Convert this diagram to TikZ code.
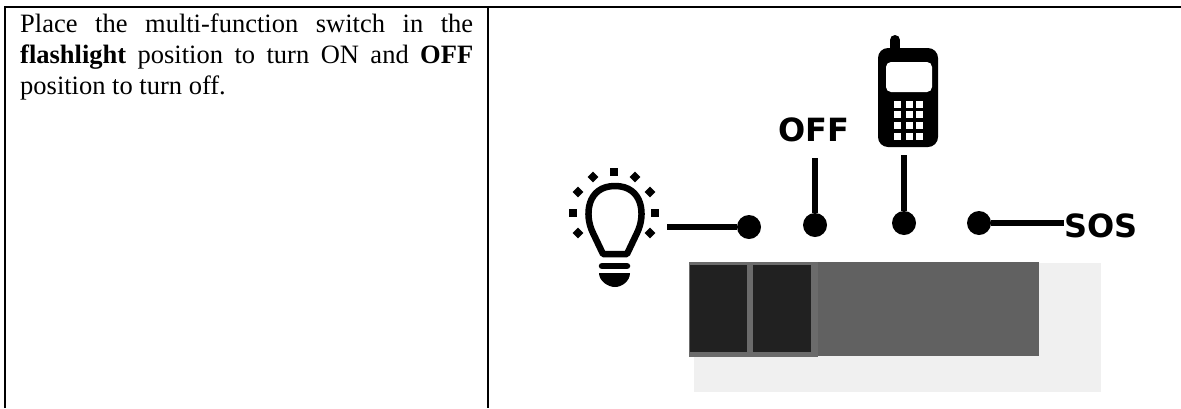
\documentclass[tikz,border=0pt]{standalone}
\usepackage{fontspec}
\setmainfont{Liberation Serif}
\newfontfamily\labelfont{DejaVu Sans}
\tikzset{
	rule/.style={line width=2.3pt, color=black},
	wire/.style={line width=5.5pt, color=black},
	pin/.style={circle, fill=black, inner sep=0pt, minimum size=24pt},
	poslabel/.style={inner sep=0pt, font=\labelfont\bfseries\fontsize{32}{32}\selectfont},
	ray/.style={fill=black, inner sep=0pt, minimum size=7.5pt},
	key/.style={fill=white, inner sep=0pt, minimum size=7pt},
	notetext/.style={inner sep=0pt, text width=453pt, align=justify, font=\fontsize{26.5}{31}\selectfont}
}

\begin{document}
\begin{tikzpicture}[x=1pt, y=-1pt]
		%%%%% START %%%%%
		\useasboundingbox (0, 0) rectangle (1181, 408);

		% table lines
		\draw[rule] (5, 408) -- (5, 7) -- (1181, 7);
		\draw[rule] (488, 7) -- (488, 408);

		\node[notetext, anchor=north west] (note) at (20, 14) {\hyphenpenalty=10000\tolerance=9999 Place the multi-function switch in the \textbf{flashlight} position to turn ON and \textbf{OFF} position to turn off.\par};

		% switch
		\fill[color=black!6] (694, 263) rectangle (1101, 392);
		\fill[color=black!62] (689, 262) rectangle (1039, 356);
		\fill[color=black!58] (689, 262) rectangle (818, 357);
		\fill[color=black!87] (690, 265) rectangle (747, 352);
		\fill[color=black!87] (753, 265) rectangle (811, 352);

		% bulb
		\draw[line width=6.5pt, join=round] (603, 254) -- (593, 233) .. controls (584, 215) and (587, 186) .. (615, 186) .. controls (643, 186) and (646, 215) .. (637, 233) -- (627, 254) -- cycle;
		\draw[line width=6.5pt, line cap=round] (602, 266) -- (627, 266);
		\fill (599, 273) -- (630, 273) .. controls (630, 281) and (622, 287) .. (615, 287) .. controls (608, 287) and (599, 281) .. (599, 273) -- cycle;
		\foreach \x/\y in {614/172, 573/213, 655/213}
			\node[ray] (ray\x\y) at (\x, \y) {};
		\foreach \x/\y in {593/177, 635/177, 578/192, 650/192, 578/233, 650/233}
			\node[ray, rotate=45] (ray\x\y) at (\x, \y) {};

		% phone
		\draw[line width=10pt, line cap=round] (895, 40) -- (895, 55);
		\fill[rounded corners=10pt] (878, 48) rectangle (938, 147);
		\fill[color=white, rounded corners=5pt] (886, 62) rectangle (932, 92);
		\foreach \x in {897, 909, 919}
			\foreach \y in {104, 114, 125, 136}
				\node[key] (key\x\y) at (\x, \y) {};

		% positions
		\node[pin] (flash) at (749, 227) {};
		\node[pin] (off) at (815, 225) {};
		\node[pin] (phone) at (904, 223) {};
		\node[pin] (sos) at (979, 223) {};
		\node[poslabel] (offlabel) at (814, 130) {OFF};
		\node[poslabel] (soslabel) at (1101, 226) {SOS};

		\coordinate (flashend) at (667, 227);
		\coordinate (offend) at (815, 158);
		\coordinate (phoneend) at (904, 155);

		\draw[wire] (flashend) -- (flash);
		\draw[wire] (offend) -- (off);
		\draw[wire] (phoneend) -- (phone);
		\draw[wire] (sos) -- (soslabel.west |- sos);
		%%%%% END %%%%%
	\end{tikzpicture}
\end{document}
